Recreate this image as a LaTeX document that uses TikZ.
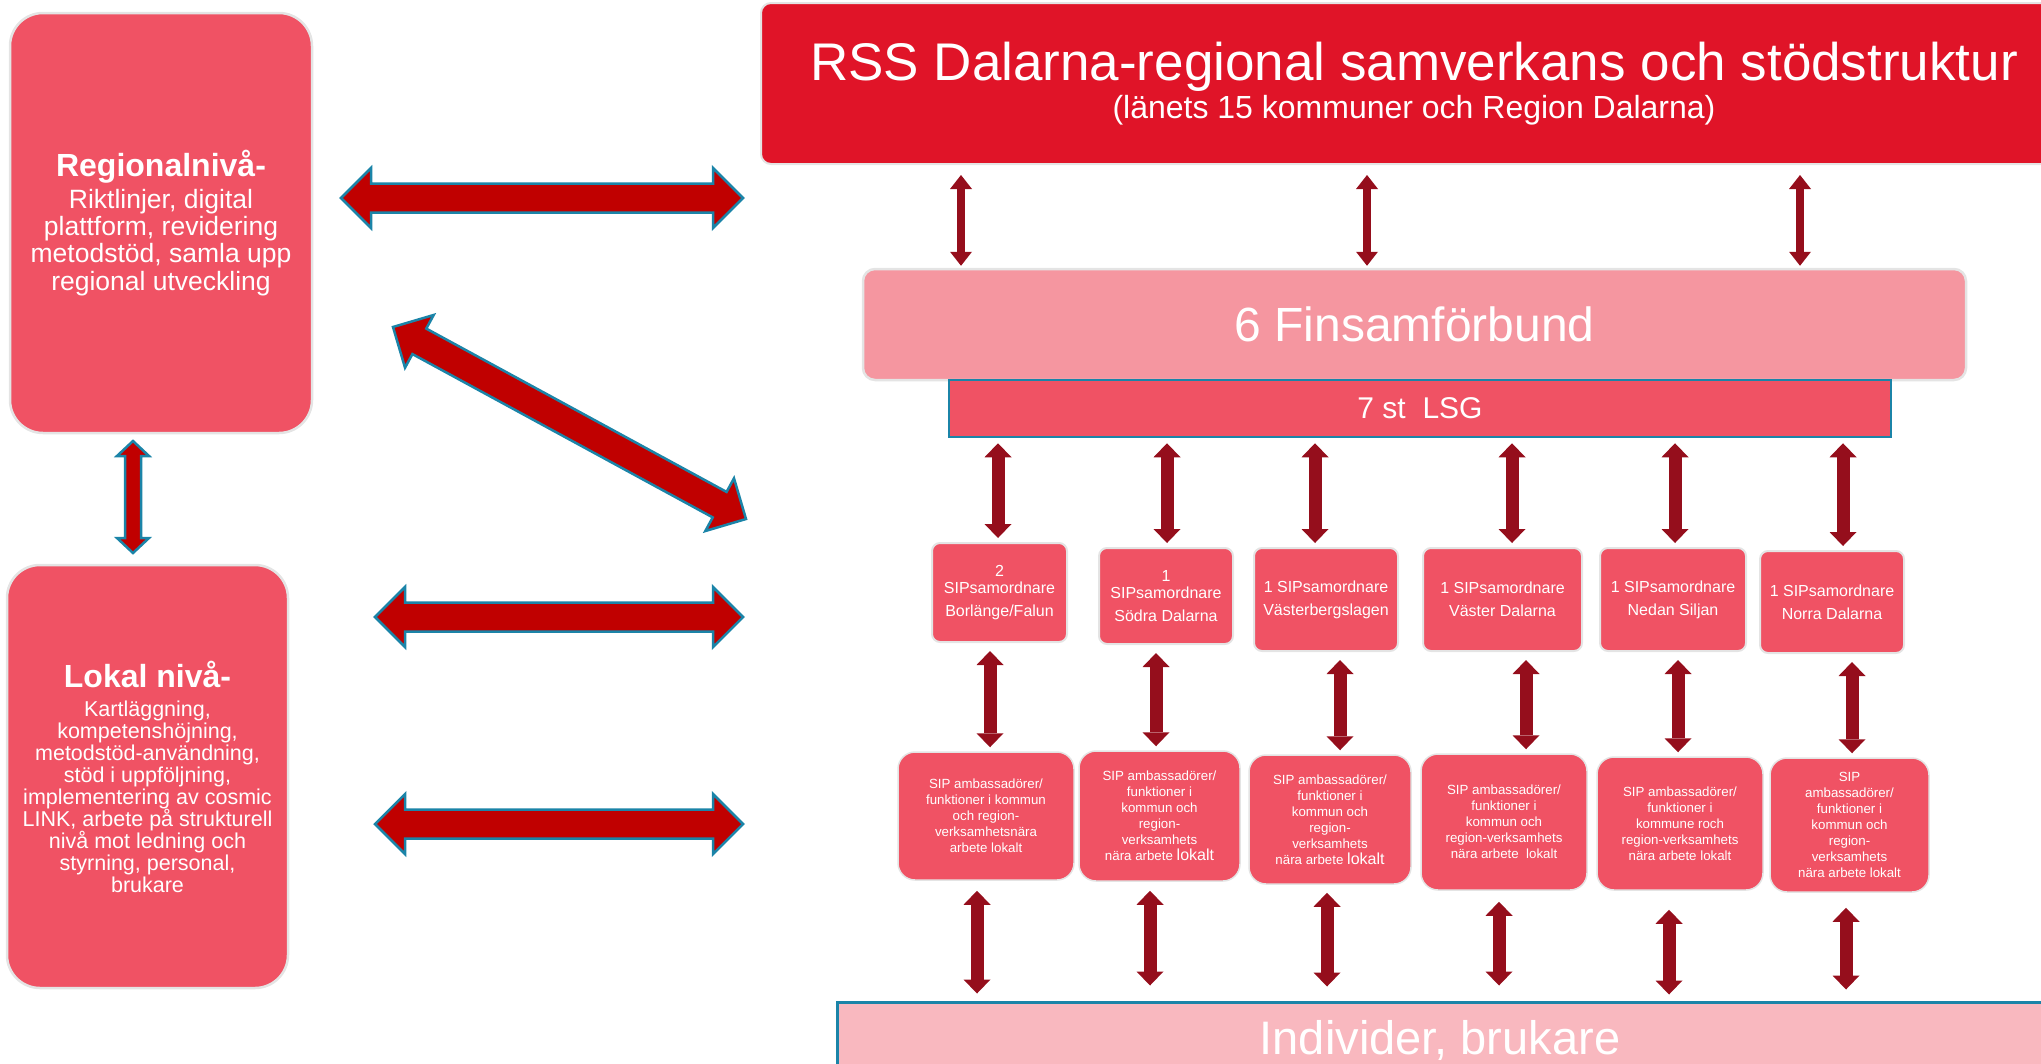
\documentclass[tikz,border=0pt]{standalone}
\usepackage{fontspec}
\setmainfont{Liberation Sans}
\usetikzlibrary{arrows.meta, calc}

\definecolor{levelred}{HTML}{F05264}
\definecolor{rssred}{HTML}{E01428}
\definecolor{finpink}{HTML}{F596A0}
\definecolor{indpink}{HTML}{F9B8BF}
\definecolor{bigred}{HTML}{C00000}
\definecolor{tealedge}{HTML}{1B84A8}
\definecolor{linkred}{HTML}{950E1C}
\definecolor{edgegray}{HTML}{E4E4E4}

\newcommand{\fs}[2]{\fontsize{#1}{#2}\selectfont}

% double headed block arrow: from, to, head length, head half width, shaft half width
\newcommand{\blockarrow}[5]{%
  \filldraw[blockarrow] (#1)
    -- ($(#1)!#3!(#2)!#4!90:(#2)$) -- ($(#1)!#3!(#2)!#5!90:(#2)$)
    -- ($(#2)!#3!(#1)!#5!-90:(#1)$) -- ($(#2)!#3!(#1)!#4!-90:(#1)$)
    -- (#2)
    -- ($(#2)!#3!(#1)!#4!90:(#1)$) -- ($(#2)!#3!(#1)!#5!90:(#1)$)
    -- ($(#1)!#3!(#2)!#5!-90:(#2)$) -- ($(#1)!#3!(#2)!#4!-90:(#2)$)
    -- cycle;}

\tikzset{
  levelbox/.style={draw=edgegray, line width=2.5pt, fill=levelred, rounded corners=33pt,
    text=white, align=center, inner sep=0pt},
  rssbox/.style={draw=edgegray, line width=2pt, fill=rssred, rounded corners=10pt,
    text=white, align=center, inner sep=0pt},
  finbox/.style={draw=edgegray, line width=2.5pt, fill=finpink, rounded corners=12pt,
    text=white, inner sep=0pt, font=\fs{48}{56}},
  lsgbox/.style={draw=tealedge, line width=2.5pt, fill=levelred, text=white,
    inner sep=0pt, font=\fs{30}{36}},
  samobox/.style={draw=edgegray, line width=2pt, fill=levelred, rounded corners=8pt,
    text=white, align=center, inner sep=0pt, font=\fs{16}{23}},
  ambbox/.style={draw=edgegray, line width=1.5pt, fill=levelred, rounded corners=17pt,
    text=white, align=center, inner sep=0pt, font=\fs{13.3}{16}},
  indbox/.style={draw=tealedge, line width=3pt, fill=indpink, text=white,
    inner sep=0pt, font=\fs{47}{54}},
  blockarrow/.style={draw=tealedge, line width=2.5pt, fill=bigred, line join=miter},
  link/.style={draw=linkred, line width=13pt, >={Triangle[width=27pt,length=14pt,line width=0pt]},
    <->, shorten <=5pt, shorten >=4pt},
  rsslink/.style={link, line width=8pt, >={Triangle[width=22pt,length=14pt,line width=0pt]},
    shorten <=10pt, shorten >=2pt},
}

\begin{document}
\begin{tikzpicture}[x=1pt, y=-1pt]
  \useasboundingbox (0,0) rectangle (2041,1063);
  \clip (0,0) rectangle (2041,1063);

  % left column
  \node[levelbox, minimum width=302pt, minimum height=420pt, font=\fs{26.5}{27.3}] (reg) at (161,223)
    {{\fs{32}{34}\bfseries Regionalnivå-}\\[4pt]Riktlinjer, digital\\plattform, revidering\\metodstöd, samla upp\\regional utveckling};
  \node[levelbox, minimum width=281pt, minimum height=423pt, font=\fs{21.5}{22}] (lok) at (147.5,776.5)
    {{\fs{32}{34}\bfseries Lokal nivå-}\\[7pt]Kartläggning,\\kompetenshöjning,\\metodstöd-användning,\\stöd i uppföljning,\\implementering av cosmic\\LINK, arbete på strukturell\\nivå mot ledning och\\styrning, personal,\\brukare};

  % top
  \node[rssbox, minimum width=1306pt, minimum height=161pt, font=\fs{53}{60}] (rss) at (1414,83.5)
    {RSS Dalarna-regional samverkans och stödstruktur\\[-22pt]{\fs{32}{38}(länets 15 kommuner och Region Dalarna)}};
  \node[finbox, minimum width=1103pt, minimum height=111pt] (fin) at (1414.5,324.5) {6 Finsamförbund};
  \node[lsgbox, minimum width=942pt, minimum height=57pt] (lsg) at (1420,408.5) {7 st~~LSG};

  % SIP coordinators
  \node[samobox, minimum width=135pt, minimum height=99pt] (s1) at (999.5,592.5) {2\\[-6pt]SIPsamordnare\\Borlänge/Falun};
  \node[samobox, minimum width=134pt, minimum height=96pt] (s2) at (1166,596) {1\\[-6pt]SIPsamordnare\\Södra Dalarna};
  \node[samobox, minimum width=144pt, minimum height=103pt] (s3) at (1326,599.5) {1 SIPsamordnare\\Västerbergslagen};
  \node[samobox, minimum width=159pt, minimum height=103pt] (s4) at (1502.5,599.5) {1 SIPsamordnare\\Väster Dalarna};
  \node[samobox, minimum width=146pt, minimum height=103pt] (s5) at (1673,599.5) {1 SIPsamordnare\\Nedan Siljan};
  \node[samobox, minimum width=144pt, minimum height=102pt] (s6) at (1832,602) {1 SIPsamordnare\\Norra Dalarna};

  % SIP ambassadors
  \node[ambbox, minimum width=176pt, minimum height=128pt] (a1) at (986,816)
    {SIP ambassadörer/\\funktioner i kommun\\och region-\\verksamhetsnära\\arbete lokalt};
  \node[ambbox, minimum width=161pt, minimum height=130pt] (a2) at (1159.5,816)
    {SIP ambassadörer/\\funktioner i\\kommun och\\region-\\verksamhets\\nära arbete {\fs{16}{16}lokalt}};
  \node[ambbox, minimum width=162pt, minimum height=129pt] (a3) at (1330,819.5)
    {SIP ambassadörer/\\funktioner i\\kommun och\\region-\\verksamhets\\nära arbete {\fs{16}{16}lokalt}};
  \node[ambbox, minimum width=166pt, minimum height=136pt] (a4) at (1504,822)
    {SIP ambassadörer/\\funktioner i\\kommun och\\region-verksamhets\\nära arbete~~lokalt};
  \node[ambbox, minimum width=166pt, minimum height=133pt] (a5) at (1680,823.5)
    {SIP ambassadörer/\\funktioner i\\kommune roch\\region-verksamhets\\nära arbete lokalt};
  \node[ambbox, minimum width=159pt, minimum height=134pt] (a6) at (1849.5,825)
    {SIP\\ambassadörer/\\funktioner i\\kommun och\\region-\\verksamhets\\nära arbete lokalt};

  \node[indbox, minimum width=1206pt, minimum height=76pt] (ind) at (1440,1040) {Individer, brukare};

  % big arrows between the levels
  \coordinate (h1l) at (341,198);  \coordinate (h1r) at (743,198);
  \coordinate (d1l) at (393,327);  \coordinate (d1r) at (746,519);
  \coordinate (h2l) at (375,617);  \coordinate (h2r) at (743,617);
  \coordinate (h3l) at (375,824);  \coordinate (h3r) at (743,824);
  \coordinate (v1t) at (133,441);  \coordinate (v1b) at (133,553);
  \blockarrow{h1l}{h1r}{30pt}{30pt}{14.5pt}
  \blockarrow{d1l}{d1r}{30pt}{30pt}{14.5pt}
  \blockarrow{h2l}{h2r}{30pt}{30pt}{14.5pt}
  \blockarrow{h3l}{h3r}{30pt}{30pt}{14.5pt}
  \blockarrow{v1t}{v1b}{15pt}{16pt}{8pt}

  % links
  \foreach \x in {961,1367,1800}
    \draw[rsslink] (rss.south -| \x,0) -- (fin.north -| \x,0);
  \foreach \i/\x in {1/998,2/1167,3/1315,4/1512,5/1675,6/1843}
    \draw[link] (lsg.south -| \x,0) -- (s\i.north -| \x,0);
  \foreach \i/\x in {1/990,2/1156,3/1340,4/1526,5/1678,6/1852}
    \draw[link, shorten <=8pt] (s\i.south -| \x,0) -- (a\i.north -| \x,0);
  \foreach \i/\x/\s/\t in {1/977/10/7,2/1150/9/15,3/1327/8/14,4/1499/11/15,5/1669/19/6,6/1846/15/11}
    \draw[link, shorten <=\s pt, shorten >=\t pt] (a\i.south -| \x,0) -- (ind.north -| \x,0);
\end{tikzpicture}
\end{document}
